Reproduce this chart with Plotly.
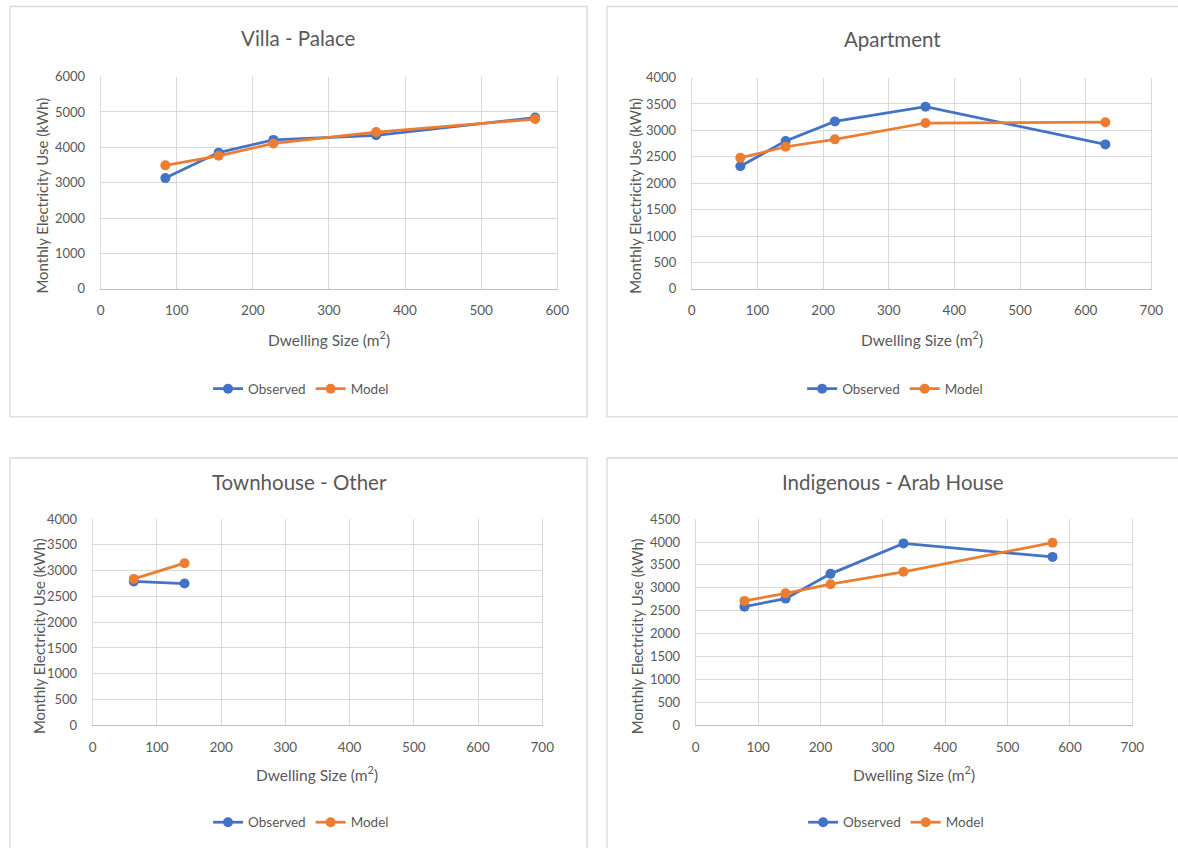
import plotly.graph_objects as go

W, H = 1178, 848

# ---- data (dwelling size in m², monthly electricity use in kWh) ----
villa_size = [85, 155, 227, 362, 571]
villa_obs = [3130, 3850, 4210, 4340, 4840]
villa_mod = [3490, 3760, 4110, 4430, 4800]

apt_size = [74, 143, 218, 356, 630]
apt_obs = [2320, 2800, 3170, 3450, 2735]
apt_mod = [2480, 2690, 2830, 3140, 3155]

town_size = [64, 143]
town_obs = [2790, 2750]
town_mod = [2840, 3145]

arab_size = [78, 144, 216, 333, 572]
arab_obs = [2590, 2765, 3305, 3970, 3675]
arab_mod = [2715, 2880, 3080, 3350, 3985]

panel_titles = ["Villa - Palace", "Apartment", "Townhouse - Other", "Indigenous - Arab House"]
x_title = "Dwelling Size (m<sup>2</sup>)"
y_title = "Monthly Electricity Use (kWh)"
series_names = ["Observed", "Model"]

BLUE = "#4472C4"
ORANGE = "#ED7D31"
TXT = "#595959"
GRID = "#D9D9D9"
AXIS = "#BFBFBF"
FONT = "Lato"

# page placement of the figure canvas
OX, SX = 2.0, 0.9896
OY, SY = 8.5, 0.98


def px_x(v):
    return ((v - OX) / SX) / W


def px_y(v):
    return 1 - ((v - OY) / SY) / H


# plot-area pixel boxes (left, right, top, bottom), axis ranges and ticks
panels = [
    dict(box=(99, 557, 77, 289), xr=600, yr=6000, ydt=1000,
         data=(villa_size, villa_obs, villa_mod),
         frame=(8, 587, 7, 417), title=(297, 38), yt=(40, 196), xt_y=339, leg=(300, 389)),
    dict(box=(692, 1153, 78, 289), xr=700, yr=4000, ydt=500,
         data=(apt_size, apt_obs, apt_mod),
         frame=(607, 1200, 7, 417), title=(893, 39), yt=(635, 196), xt_y=339, leg=(896, 389)),
    dict(box=(91, 542, 519, 725), xr=700, yr=4000, ydt=500,
         data=(town_size, town_obs, town_mod),
         frame=(8, 587, 458, 880), title=(298, 482), yt=(37, 636), xt_y=773, leg=(300, 822)),
    dict(box=(696, 1134, 519, 725), xr=700, yr=4500, ydt=500,
         data=(arab_size, arab_obs, arab_mod),
         frame=(607, 1200, 458, 880), title=(894, 482), yt=(637, 636), xt_y=773, leg=(897, 822)),
]

fig = go.Figure()
shapes = []
annotations = []
layout_axes = {}

for i, p in enumerate(panels):
    n = i + 1
    sfx = "" if n == 1 else str(n)
    legend_name = "legend" if n == 1 else f"legend{n}"
    l, r, t, b = p["box"]
    xs, ys_o, ys_m = p["data"]

    for ys, name, col in ((ys_o, series_names[0], BLUE),
                          (ys_m, series_names[1], ORANGE)):
        fig.add_trace(go.Scatter(
            x=xs, y=ys, name=name, mode="lines+markers",
            line=dict(color=col, width=2.75),
            marker=dict(color=col, size=10),
            xaxis=f"x{sfx}", yaxis=f"y{sfx}", legend=legend_name,
        ))

    layout_axes[f"xaxis{sfx}"] = dict(
        domain=[px_x(l), px_x(r)], anchor=f"y{sfx}",
        range=[0, p["xr"]], dtick=100, tick0=0,
        showgrid=True, gridcolor=GRID, gridwidth=1,
        zeroline=False, showline=True, linecolor=AXIS, linewidth=1,
        mirror=False, ticks="", ticklabelstandoff=9,
        tickfont=dict(family=FONT, size=13.5, color=TXT), fixedrange=True,
    )
    layout_axes[f"yaxis{sfx}"] = dict(
        domain=[px_y(b), px_y(t)], anchor=f"x{sfx}",
        range=[0, p["yr"]], dtick=p["ydt"], tick0=0,
        showgrid=True, gridcolor=GRID, gridwidth=1,
        zeroline=False, showline=True, linecolor=GRID, linewidth=1,
        mirror=True, ticks="", ticklabelstandoff=12,
        tickfont=dict(family=FONT, size=13, color=TXT), fixedrange=True,
    )

    fl, fr, ft, fb = p["frame"]
    shapes.append(dict(type="rect", xref="paper", yref="paper",
                       x0=px_x(fl), x1=px_x(fr), y0=px_y(fb), y1=px_y(ft),
                       line=dict(color=GRID, width=1.3), fillcolor="rgba(0,0,0,0)",
                       layer="below"))

    tx, ty = p["title"]
    annotations.append(dict(text=panel_titles[i], xref="paper", yref="paper",
                            x=px_x(tx), y=px_y(ty), xanchor="center", yanchor="middle",
                            showarrow=False, font=dict(family=FONT, size=20.5, color=TXT)))
    annotations.append(dict(text=x_title, xref="paper", yref="paper",
                            x=px_x((l + r) / 2), y=px_y(p["xt_y"]),
                            xanchor="center", yanchor="middle", showarrow=False,
                            font=dict(family=FONT, size=15.5, color=TXT)))
    yx, yy = p["yt"]
    annotations.append(dict(text=y_title, xref="paper", yref="paper",
                            x=px_x(yx), y=px_y(yy),
                            xanchor="center", yanchor="middle", textangle=-90,
                            showarrow=False,
                            font=dict(family=FONT, size=15, color=TXT)))

    lx, ly = p["leg"]
    layout_axes[legend_name] = dict(
        orientation="h", xref="paper", yref="paper",
        x=px_x(lx), y=px_y(ly),
        xanchor="center", yanchor="middle",
        font=dict(family=FONT, size=13.5, color=TXT),
        bgcolor="rgba(0,0,0,0)", itemwidth=30, tracegroupgap=0,
    )

fig.update_layout(
    width=W, height=H,
    margin=dict(l=0, r=0, t=0, b=0),
    paper_bgcolor="white", plot_bgcolor="white",
    showlegend=True,
    shapes=shapes, annotations=annotations,
    **layout_axes,
)

fig.write_html("out.html")
